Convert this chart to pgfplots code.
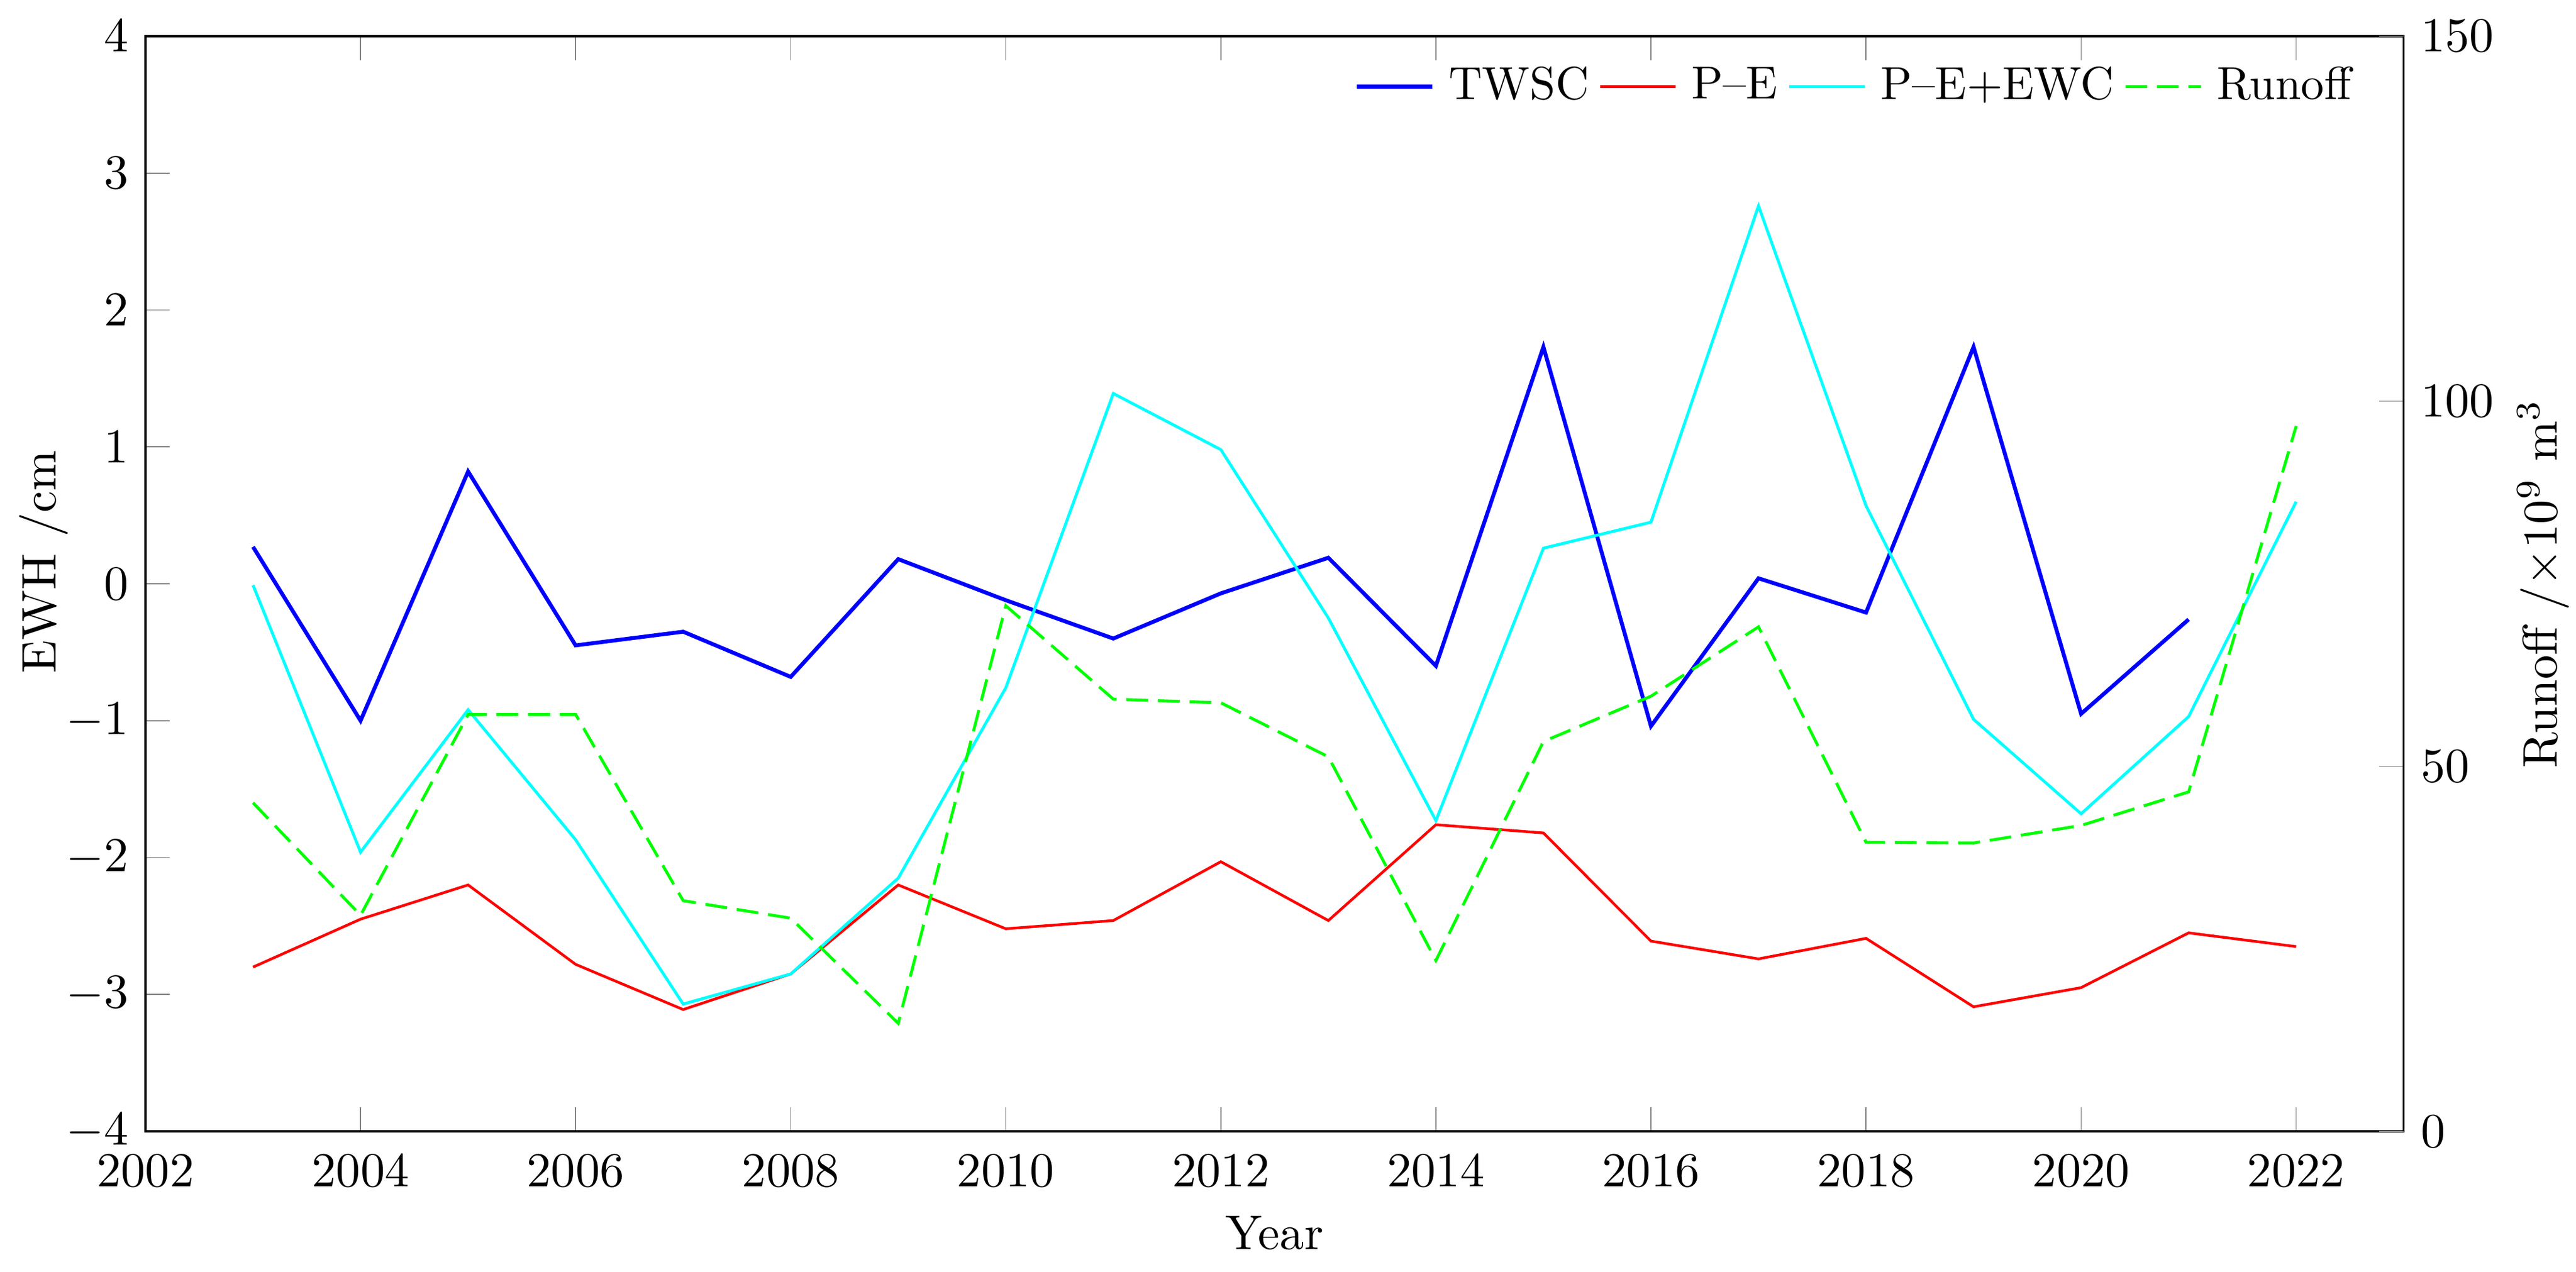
\documentclass[border=0pt]{standalone}
\usepackage{pgfplots}
\usepackage{pgfplotstable}
\pgfplotsset{compat=1.18}
\definecolor{mblue}{rgb}{0,0,1}
\definecolor{mred}{rgb}{1,0,0}
\definecolor{mcyan}{rgb}{0,1,1}
\definecolor{mgreen}{rgb}{0,1,0}
\pgfplotstableread{
year val
2003 0.27
2004 -1.00
2005 0.82
2006 -0.45
2007 -0.35
2008 -0.68
2009 0.18
2010 -0.12
2011 -0.40
2012 -0.07
2013 0.19
2014 -0.60
2015 1.73
2016 -1.04
2017 0.04
2018 -0.21
2019 1.73
2020 -0.95
2021 -0.26
}\twsc
\pgfplotstableread{
year val
2003 -2.80
2004 -2.45
2005 -2.20
2006 -2.78
2007 -3.11
2008 -2.85
2009 -2.20
2010 -2.52
2011 -2.46
2012 -2.03
2013 -2.46
2014 -1.76
2015 -1.82
2016 -2.61
2017 -2.74
2018 -2.59
2019 -3.09
2020 -2.95
2021 -2.55
2022 -2.65
}\pe
\pgfplotstableread{
year val
2003 -0.01
2004 -1.96
2005 -0.92
2006 -1.87
2007 -3.07
2008 -2.85
2009 -2.15
2010 -0.76
2011 1.39
2012 0.98
2013 -0.25
2014 -1.73
2015 0.26
2016 0.45
2017 2.76
2018 0.57
2019 -0.99
2020 -1.68
2021 -0.97
2022 0.60
}\peewc
\pgfplotstableread{
year val
2003 45.0
2004 29.6
2005 57.1
2006 57.1
2007 31.6
2008 29.2
2009 14.8
2010 72.0
2011 59.2
2012 58.7
2013 51.3
2014 23.4
2015 53.4
2016 59.6
2017 69.1
2018 39.6
2019 39.5
2020 41.9
2021 46.5
2022 96.6
}\runoff
\begin{document}
\begin{tikzpicture}
\path[use as bounding box] (-29.86pt,-28.75pt) rectangle (498.76pt,232.23pt);
\begin{axis}[
  at={(0,0)}, anchor=south west,
  scale only axis, width=463.4pt, height=224.8pt,
  xmin=2002, xmax=2023, ymin=-4, ymax=4,
  xtick={2002,2004,...,2022}, ytick={-4,-3,...,4},
  xticklabel style={/pgf/number format/1000 sep=, yshift=-1.4pt},
  tick align=inside, major tick length=5pt,
  xtick pos=both, xticklabel pos=bottom, ytick pos=left,
  xlabel={Year}, ylabel={EWH /cm},
  xlabel style={at={(axis description cs:0.5,-0.108)}, anchor=base},
  ylabel style={at={(axis description cs:-0.0396,0.52)}, anchor=base},
  legend columns=4,
  legend image code/.code={\draw[#1] (0pt,0pt) -- (15.5pt,0pt);},
  legend style={draw=none, fill=none, at={(axis description cs:0.988,0.954)}, anchor=east,
    font=\fontsize{9.5}{11}\selectfont,
    /tikz/every odd column/.append style={column sep=1pt},
    /tikz/every even column/.append style={column sep=0pt}},
]
\addplot[mblue, line width=0.8pt] table[x=year,y=val] {\twsc};
\addlegendentry{TWSC}
\addplot[mred, line width=0.55pt] table[x=year,y=val] {\pe};
\addlegendentry{P--E}
\addplot[mcyan, line width=0.6pt] table[x=year,y=val] {\peewc};
\addlegendentry{P--E+EWC}
\addlegendimage{mgreen, line width=0.6pt, dash pattern=on 4.5pt off 2pt}
\addlegendentry{Runoff}
\end{axis}
\begin{axis}[
  at={(0,0)}, anchor=south west,
  scale only axis, width=463.4pt, height=224.8pt,
  xmin=2002, xmax=2023, ymin=0, ymax=150,
  hide x axis,
  ytick={0,50,100,150}, ytick pos=right, yticklabel pos=right,
  tick align=inside, major tick length=5pt,
  ylabel={Runoff /$\times10^9$ m$^3$},
  ylabel style={at={(axis description cs:1.0679,0.5)}, anchor=base},
]
\addplot[mgreen, line width=0.6pt, dash pattern=on 4.5pt off 2pt] table[x=year,y=val] {\runoff};
\end{axis}
\end{tikzpicture}
\end{document}
